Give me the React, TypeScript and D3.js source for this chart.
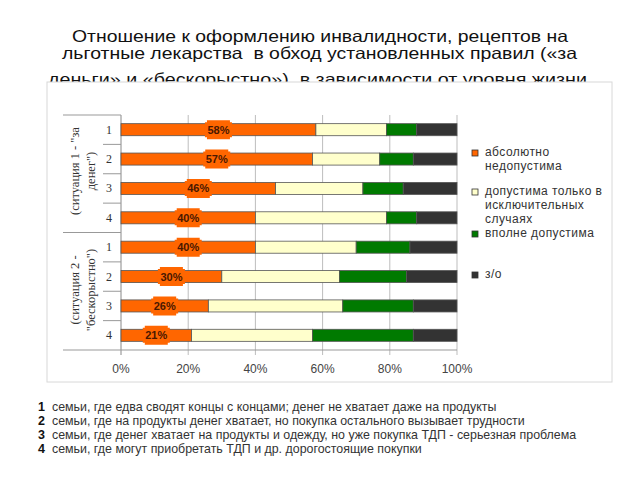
import React from "react";
import * as d3 from "d3";

const rowLabels = ["1", "2", "3", "4", "1", "2", "3", "4"];
const rowKeys = ["g1r1", "g1r2", "g1r3", "g1r4", "g2r1", "g2r2", "g2r3", "g2r4"];
const absolutelyUnacceptable = [58, 57, 46, 40, 40, 30, 26, 21];
const acceptableExceptional = [21, 20, 26, 39, 30, 35, 40, 36];
const fullyAcceptable = [9, 10, 12, 9, 16, 20, 21, 30];
const noAnswer = [12, 13, 16, 12, 14, 15, 13, 13];
const seriesNames = ["абсолютно недопустима", "допустима только в исключительных случаях", "вполне допустима", "з/о"];
const seriesColors = ["#FF6600", "#FFFFCC", "#007A00", "#333333"];
const xTicks = [0, 20, 40, 60, 80, 100];
const groupLabels = [
  ["(ситуация 1 - \"за", "денег\")"],
  ["(ситуация 2 -", "\"бескорыстно\")"],
];
const titleLines = [
  "Отношение к оформлению инвалидности, рецептов на",
  "льготные лекарства  в обход установленных правил («за",
  "деньги» и «бескорыстно»), в зависимости от уровня жизни",
];
const legendLines = [
  ["абсолютно", "недопустима"],
  ["допустима только в", "исключительных", "случаях"],
  ["вполне допустима"],
  ["з/о"],
];
const footNumbers = ["1", "2", "3", "4"];
const footTexts = [
  "семьи, где едва сводят концы с концами; денег не хватает даже на продукты",
  "семьи, где на продукты денег хватает, но покупка остального вызывает трудности",
  "семьи, где денег хватает на продукты и одежду, но уже покупка ТДП - серьезная проблема",
  "семьи, где могут приобретать ТДП и др. дорогостоящие покупки",
];

const SANS = "'Liberation Sans', Arial, sans-serif";
const SERIF = "'Liberation Serif', 'Times New Roman', serif";

export default function App() {
  const W = 640, H = 480;
  const x = d3.scaleLinear().domain([0, 100]).range([121, 457]);
  const y = d3.scaleBand<string>().domain(rowKeys).range([115, 350]).paddingInner(0.59).paddingOuter(0.295);
  const table = rowKeys.map((k, i) => ({
    key: k,
    s0: absolutelyUnacceptable[i],
    s1: acceptableExceptional[i],
    s2: fullyAcceptable[i],
    s3: noAnswer[i],
  }));
  const stacked = d3.stack<any>().keys(["s0", "s1", "s2", "s3"])(table);
  const step = y.step();
  const bw = y.bandwidth();

  const titleX = [[72, 496], [62, 515], [48, 539]];
  const titleY = [42, 59, 85];

  const legendSquareY = [150, 189, 231, 272];
  const legendTextY = [[156, 170], [195, 209, 223], [237], [278]];

  const labelBox = (cx: number, cy: number) => {
    const w = 13.5, h = 9.5, n = 2;
    const pts = [
      [-w + n, -h], [w - n, -h], [w - n, -h + n], [w, -h + n], [w, h - n], [w - n, h - n], [w - n, h],
      [-w + n, h], [-w + n, h - n], [-w, h - n], [-w, -h + n], [-w + n, -h + n],
    ];
    return "M" + pts.map(p => `${cx + p[0]},${cy + p[1]}`).join("L") + "Z";
  };

  return (
    <svg width={W} height={H} style={{ position: "absolute", left: 0, top: 0, background: "#fff" }}>
      <rect x={0} y={0} width={W} height={H} fill="#fff" />
      {titleLines.map((t, i) => (
        <text key={i} x={titleX[i][0]} y={titleY[i]} textLength={titleX[i][1]} lengthAdjust="spacingAndGlyphs"
          fontFamily={SANS} fontSize={16.5} fill="#111" style={{ whiteSpace: "pre" }}>{t}</text>
      ))}
      {/* chart frame overlapping title */}
      <rect x={47} y={82} width={565} height={300} fill="#fff" stroke="#d8d8d8" strokeWidth={1} />

      {/* gridlines */}
      {xTicks.slice(1).map(t => (
        <line key={t} x1={x(t)} x2={x(t)} y1={115} y2={355} stroke="#bdbdbd" strokeWidth={1} />
      ))}
      <line x1={x(0)} x2={x(0)} y1={115} y2={355} stroke="#888" strokeWidth={1} />

      {/* category separators */}
      {rowKeys.map((k, i) => {
        const yy = (y(k) as number) - (step - bw) / 2;
        const isGroup = i % 4 === 0;
        return <line key={k} x1={isGroup ? 63 : 103} x2={x(0)} y1={yy} y2={yy} stroke="#999" strokeWidth={1} />;
      })}
      <line x1={63} x2={x(100)} y1={350} y2={350} stroke="#999" strokeWidth={1} />

      {/* bars */}
      {stacked.map((s, si) => (
        <g key={si}>
          {s.map((d, i) => (
            <rect key={i} x={x(d[0])} y={y(rowKeys[i]) as number} width={x(d[1]) - x(d[0])} height={bw}
              fill={seriesColors[si]} stroke="#555" strokeWidth={0.8} />
          ))}
        </g>
      ))}

      {/* value labels */}
      {absolutelyUnacceptable.map((v, i) => {
        const cx = x(v / 2);
        const cy = (y(rowKeys[i]) as number) + bw / 2;
        return (
          <g key={i}>
            <path d={labelBox(cx, cy)} fill="#FF6600" />
            <text x={cx} y={cy + 4} textAnchor="middle" fontFamily={SANS} fontWeight="bold" fontSize={11} fill="#4a1800">{v}%</text>
          </g>
        );
      })}

      {/* row labels */}
      {rowKeys.map((k, i) => (
        <text key={k} x={109} y={(y(k) as number) + bw / 2 + 4} textAnchor="middle" fontFamily={SERIF} fontSize={12} fill="#333">{rowLabels[i]}</text>
      ))}

      {/* group labels */}
      {groupLabels.map((lines, gi) => {
        const cy = gi === 0 ? 171 : 290;
        return lines.map((l, li) => (
          <text key={gi + "-" + li} transform={`translate(${li === 0 ? 79 : 95},${cy}) rotate(-90)`} textAnchor="middle"
            fontFamily={SERIF} fontSize={12.5} fill="#333">{l}</text>
        ));
      })}

      {/* x axis labels */}
      {xTicks.map(t => (
        <text key={t} x={x(t)} y={373} textAnchor="middle" fontFamily={SANS} fontSize={12} fill="#444">{t}%</text>
      ))}

      {/* legend */}
      {seriesNames.map((n, i) => (
        <g key={n}>
          <rect x={472} y={legendSquareY[i]} width={6} height={6} fill={seriesColors[i]} stroke="#333" strokeWidth={0.8} />
          {legendLines[i].map((l, li) => (
            <text key={li} x={485} y={legendTextY[i][li]} fontFamily={SANS} fontSize={12} letterSpacing={0.45} fill="#333">{l}</text>
          ))}
        </g>
      ))}

      {/* footnotes */}
      {footTexts.map((t, i) => (
        <g key={i}>
          <text x={38} y={411 + i * 14} fontFamily={SANS} fontWeight="bold" fontSize={12.5} fill="#111">{footNumbers[i]}</text>
          <text x={52} y={411 + i * 14} fontFamily={SANS} fontSize={12.4} fill="#333">{t}</text>
        </g>
      ))}
    </svg>
  );
}
